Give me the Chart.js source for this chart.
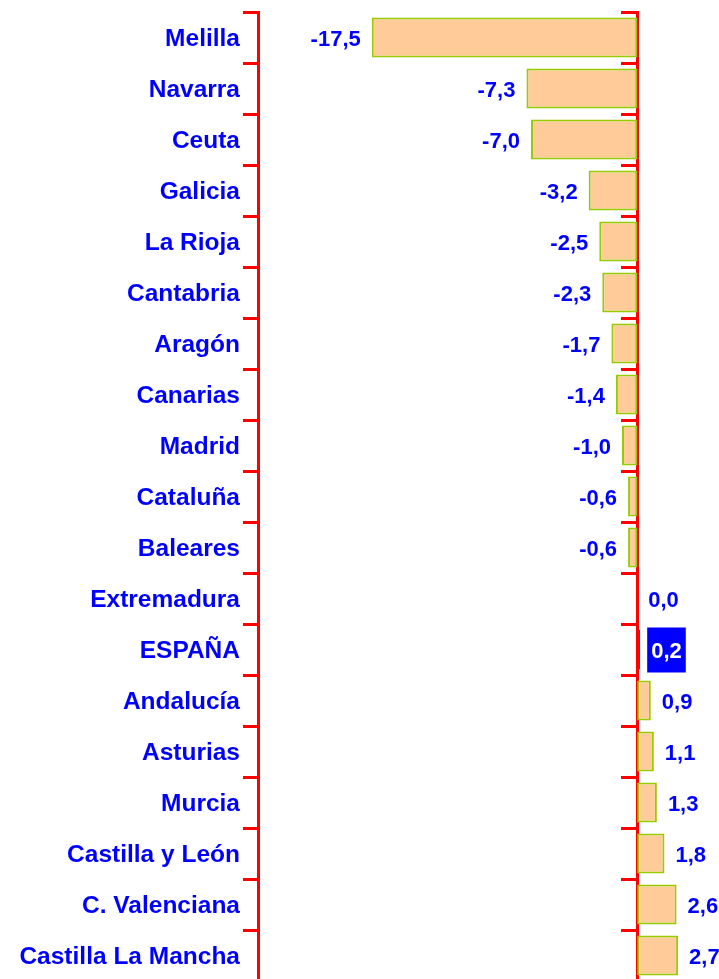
<!DOCTYPE html>
<html>
<head>
<meta charset="utf-8">
<script src="https://cdn.jsdelivr.net/npm/chart.js@4/dist/chart.umd.min.js"></script>
<style>
  html, body { margin: 0; padding: 0; background: #fff; overflow: hidden; }
  #wrap { width: 719px; height: 981px; }
</style>
</head>
<body>
<div id="wrap"><canvas id="chart" width="719" height="981"></canvas></div>
<script>
const regions = ['Melilla', 'Navarra', 'Ceuta', 'Galicia', 'La Rioja', 'Cantabria', 'Aragón', 'Canarias',
    'Madrid', 'Cataluña', 'Baleares', 'Extremadura', 'ESPAÑA', 'Andalucía', 'Asturias', 'Murcia',
    'Castilla y León', 'C. Valenciana', 'Castilla La Mancha'];
const values = [-17.5, -7.3, -7.0, -3.2, -2.5, -2.3, -1.7, -1.4, -1.0, -0.6, -0.6, 0.0, 0.2, 0.9, 1.1, 1.3, 1.8, 2.6, 2.7];
const xMin = -25;
const xMax = 5;
const highlight = 'ESPAÑA';

const BLUE = '#0000FF';
const RED = '#FF0000';
const FONT = "'Liberation Sans', Arial, sans-serif";

// value labels: left of negative bars, right of positive ones, boxed for ESPAÑA
const valueLabels = {
    id: 'valueLabels',
    afterDatasetsDraw(chart) {
        const ctx = chart.ctx;
        const meta = chart.getDatasetMeta(0);
        ctx.save();
        ctx.font = 'bold 22px ' + FONT;
        ctx.textBaseline = 'middle';
        meta.data.forEach((bar, i) => {
            const v = values[i];
            const txt = v.toFixed(1).replace('.', ',');
            if (regions[i] === highlight) {
                const w = ctx.measureText(txt).width;
                const x0 = bar.x + 7;
                ctx.fillStyle = BLUE;
                ctx.fillRect(x0, bar.y - 22, w + 8, 45);
                ctx.fillStyle = '#fff';
                ctx.textAlign = 'left';
                ctx.fillText(txt, x0 + 4, bar.y + 2);
            } else if (v < 0) {
                ctx.fillStyle = BLUE;
                ctx.textAlign = 'right';
                ctx.fillText(txt, bar.x - 11, bar.y + 2);
            } else {
                ctx.fillStyle = BLUE;
                ctx.textAlign = 'left';
                ctx.fillText(txt, bar.x + 11, bar.y + 2);
            }
        });
        ctx.restore();
    }
};

// category axes reserve room for half a label at each end; not needed with offset
function noEndPadding(scale) {
    scale.paddingTop = 0;
    scale.paddingBottom = 0;
}

const ctx = document.getElementById('chart').getContext('2d');
new Chart(ctx, {
    type: 'bar',
    data: {
        labels: regions,
        datasets: [{
            data: values,
            backgroundColor: regions.map(r => r === highlight ? '#FFFFFF' : '#FFCC99'),
            borderColor: regions.map(r => r === highlight ? RED : '#99CC00'),
            borderWidth: 2,
            borderSkipped: false,
            barPercentage: 0.78,
            categoryPercentage: 1
        }]
    },
    options: {
        indexAxis: 'y',
        responsive: false,
        animation: false,
        layout: { padding: { top: 12, right: 6, left: 0, bottom: 0 } },
        plugins: {
            legend: { display: false },
            tooltip: { enabled: false }
        },
        scales: {
            x: {
                display: false,
                min: xMin,
                max: xMax
            },
            y: {
                position: 'left',
                offset: true,
                afterFit: (scale) => {
                    scale.width = 258;
                    noEndPadding(scale);
                },
                grid: {
                    offset: true,
                    drawOnChartArea: false,
                    color: RED,
                    lineWidth: 3,
                    tickLength: 15
                },
                border: { color: RED, width: 3 },
                ticks: {
                    color: BLUE,
                    padding: 3,
                    labelOffset: 2,
                    font: { family: FONT, size: 24.5, weight: 'bold' }
                }
            },
            y2: {
                type: 'category',
                labels: regions,
                position: { x: 0 },
                offset: true,
                afterFit: noEndPadding,
                grid: {
                    offset: true,
                    drawOnChartArea: false,
                    color: RED,
                    lineWidth: 3,
                    tickLength: 15
                },
                border: { color: RED, width: 3 },
                ticks: { display: false }
            }
        }
    },
    plugins: [valueLabels]
});
</script>
</body>
</html>
